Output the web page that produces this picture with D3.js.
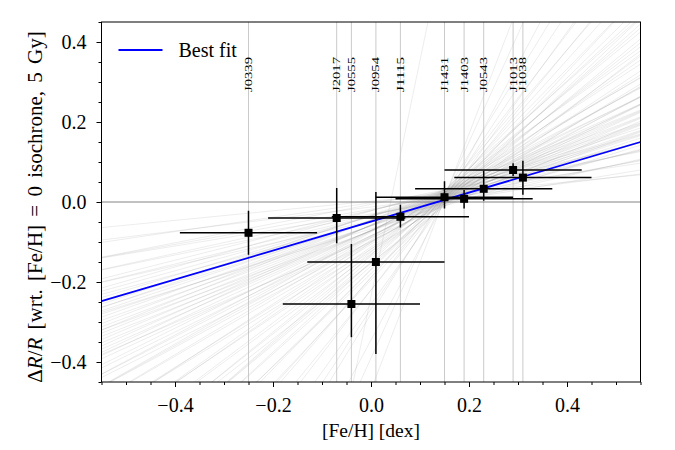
<!DOCTYPE html>
<html>
<head>
<meta charset="utf-8">
<script src="https://cdn.jsdelivr.net/npm/d3@7"></script>
<style>
  body { margin: 0; background: #fff; }
  text { font-family: "Liberation Serif", "DejaVu Serif", serif; fill: #000; }
</style>
</head>
<body>
<svg id="chart" width="675" height="450"></svg>
<script>
// Stars
const starNames = ["J0339", "J2017", "J0555", "J0954", "J1115", "J1431", "J1403", "J0543", "J1013", "J1038"];
const starFeH = [-0.25, -0.07, -0.04, 0.01, 0.06, 0.15, 0.19, 0.23, 0.29, 0.31];
const starFeHErr = [0.14, 0.14, 0.14, 0.14, 0.14, 0.14, 0.14, 0.14, 0.14, 0.14];
const starDR = [-0.077, -0.04, -0.255, -0.15, -0.037, 0.012, 0.008, 0.033, 0.08, 0.061];
const starDRErrUp = [0.055, 0.075, 0.15, 0.175, 0.03, 0.04, 0.022, 0.045, 0.017, 0.042];
const starDRErrLo = [0.055, 0.063, 0.083, 0.23, 0.027, 0.028, 0.024, 0.03, 0.015, 0.043];

// Best fit line, values at the two edges of the plot
const fitX = [-0.55, 0.55];
const fitY = [-0.248, 0.150];

// Sampled fits: y at x = -0.55 and y at x = 0.55
const sampleLeft = [
  -0.064, -0.095, -0.101, -0.14, -0.139, -0.138, -0.17, -0.169, -0.201, -0.2,
  -0.192, -0.231, -0.223, -0.215, -0.247, -0.239, -0.276, -0.263, -0.255, -0.28,
  -0.272, -0.264, -0.296, -0.288, -0.32, -0.312, -0.304, -0.336, -0.328, -0.32,
  -0.352, -0.344, -0.381, -0.368, -0.36, -0.392, -0.384, -0.376, -0.415, -0.407,
  -0.439, -0.431, -0.43, -0.462, -0.461, -0.46, -0.492, -0.491, -0.53, -0.529,
  -0.535, -0.574, -0.58, -0.579, -0.625, -0.624, -0.675, -0.669, -0.675, -0.714,
  -0.72, -0.726, -0.765, -0.771, -0.817, -0.83, -0.855, -0.91, -0.937, -0.969,
  -1.045, -1.1, -1.19, -1.285, -1.38, -1.61, -1.875, -2.23, -3.481
];
const sampleRight = [
  0.068, 0.07, 0.097, 0.08, 0.103, 0.126, 0.105, 0.128, 0.107, 0.13,
  0.149, 0.132, 0.151, 0.17, 0.149, 0.168, 0.142, 0.166, 0.185, 0.16,
  0.179, 0.198, 0.177, 0.196, 0.175, 0.194, 0.213, 0.192, 0.211, 0.23,
  0.209, 0.228, 0.202, 0.226, 0.245, 0.224, 0.243, 0.262, 0.245, 0.264,
  0.243, 0.262, 0.285, 0.264, 0.287, 0.31, 0.289, 0.312, 0.295, 0.318,
  0.345, 0.328, 0.355, 0.378, 0.365, 0.388, 0.37, 0.398, 0.425, 0.408,
  0.435, 0.462, 0.445, 0.472, 0.459, 0.49, 0.52, 0.52, 0.559, 0.593,
  0.605, 0.66, 0.68, 0.75, 0.82, 0.92, 1.095, 1.29, 3.009
];

const xTicks = [-0.4, -0.2, 0.0, 0.2, 0.4];
const yTicks = [-0.4, -0.2, 0.0, 0.2, 0.4];

const margin = { left: 101.5, right: 34.5, top: 22, bottom: 68 };
const width = 675, height = 450;
const innerW = width - margin.left - margin.right;
const innerH = height - margin.top - margin.bottom;

const svg = d3.select("#chart");
const x = d3.scaleLinear().domain([-0.55, 0.55]).range([0, innerW]);
const y = d3.scaleLinear().domain([-0.45, 0.45]).range([innerH, 0]);
const fmt = d => d3.format(".1f")(d).replace("-", "\u2212");

const g = svg.append("g").attr("transform", `translate(${margin.left},${margin.top})`);

svg.append("defs").append("clipPath").attr("id", "plot-clip")
  .append("rect").attr("width", innerW).attr("height", innerH);

const plot = g.append("g").attr("clip-path", "url(#plot-clip)");

// sampled fits
plot.append("g").selectAll("line")
  .data(sampleLeft)
  .join("line")
  .attr("x1", x(fitX[0])).attr("x2", x(fitX[1]))
  .attr("y1", d => y(d))
  .attr("y2", (d, i) => y(sampleRight[i]))
  .attr("stroke", "#8c8c8c")
  .attr("stroke-opacity", 0.32)
  .attr("stroke-width", 0.5);

// vertical lines at each star
plot.append("g").selectAll("line")
  .data(starFeH)
  .join("line")
  .attr("x1", d => x(d)).attr("x2", d => x(d))
  .attr("y1", 0).attr("y2", innerH)
  .attr("stroke", "#bdbdbd")
  .attr("stroke-width", 0.8);

// zero line
plot.append("line")
  .attr("x1", 0).attr("x2", innerW)
  .attr("y1", y(0)).attr("y2", y(0))
  .attr("stroke", "#666")
  .attr("stroke-width", 0.8);

// best fit
plot.append("line")
  .attr("x1", x(fitX[0])).attr("x2", x(fitX[1]))
  .attr("y1", y(fitY[0])).attr("y2", y(fitY[1]))
  .attr("stroke", "#0000ff")
  .attr("stroke-width", 1.8);

// error bars
const eb = plot.append("g");
starFeH.forEach((fx, i) => {
  eb.append("line")
    .attr("x1", x(fx - starFeHErr[i])).attr("x2", x(fx + starFeHErr[i]))
    .attr("y1", y(starDR[i])).attr("y2", y(starDR[i]))
    .attr("stroke", "#000").attr("stroke-width", 1.5);
  eb.append("line")
    .attr("x1", x(fx)).attr("x2", x(fx))
    .attr("y1", y(starDR[i] - starDRErrLo[i])).attr("y2", y(starDR[i] + starDRErrUp[i]))
    .attr("stroke", "#000").attr("stroke-width", 1.5);
});
eb.selectAll("rect")
  .data(starFeH)
  .join("rect")
  .attr("x", d => x(d) - 4)
  .attr("y", (d, i) => y(starDR[i]) - 4)
  .attr("width", 8).attr("height", 8)
  .attr("fill", "#000");

// star labels
g.append("g").selectAll("text")
  .data(starNames)
  .join("text")
  .attr("transform", (d, i) => `translate(${x(starFeH[i]) + 3.5},${70})rotate(-90)`)
  .attr("font-size", 10.5)
  .attr("textLength", 35)
  .attr("lengthAdjust", "spacingAndGlyphs")
  .text(d => d);

// axes
const xAxis = g.append("g").attr("transform", `translate(0,${innerH})`);
xAxis.call(d3.axisBottom(x).tickValues(xTicks).tickSize(5).tickFormat(fmt));
xAxis.append("g").call(d3.axisBottom(x).tickValues(d3.range(-11, 12).map(k => k * 0.05)).tickSize(3).tickFormat(""));

const yAxis = g.append("g");
yAxis.call(d3.axisLeft(y).tickValues(yTicks).tickSize(5).tickFormat(fmt));
yAxis.append("g").call(d3.axisLeft(y).tickValues(d3.range(-9, 10).map(k => k * 0.05)).tickSize(3).tickFormat(""));

[xAxis, yAxis].forEach(a => {
  a.selectAll(".domain").remove();
  a.selectAll("line").attr("stroke", "#000").attr("stroke-width", 1);
  a.selectAll("text").attr("font-size", 20).attr("font-family", "Liberation Serif");
});
xAxis.selectAll(".tick text").attr("dy", "1.1em");
yAxis.selectAll(".tick text").attr("dx", "-0.35em");

// frame
g.append("rect")
  .attr("width", innerW).attr("height", innerH)
  .attr("fill", "none").attr("stroke", "#000").attr("stroke-width", 1);

// legend
g.append("line")
  .attr("x1", 17).attr("x2", 61).attr("y1", 28).attr("y2", 28)
  .attr("stroke", "#0000ff").attr("stroke-width", 1.8);
g.append("text")
  .attr("x", 77).attr("y", 35)
  .attr("font-size", 20)
  .text("Best fit");

// axis labels
g.append("text")
  .attr("x", innerW / 2).attr("y", innerH + 55)
  .attr("text-anchor", "middle")
  .attr("font-size", 19.5)
  .text("[Fe/H] [dex]");

const yl = g.append("text")
  .attr("transform", `translate(${-60},${185})rotate(-90)`)
  .attr("text-anchor", "middle")
  .attr("font-size", 21)
  .attr("word-spacing", 3);
yl.append("tspan").text("\u0394");
yl.append("tspan").attr("font-style", "italic").text("R");
yl.append("tspan").text("/");
yl.append("tspan").attr("font-style", "italic").text("R");
yl.append("tspan").text(" [wrt. [Fe/H] = 0 isochrone, 5 Gy]");
</script>
</body>
</html>
